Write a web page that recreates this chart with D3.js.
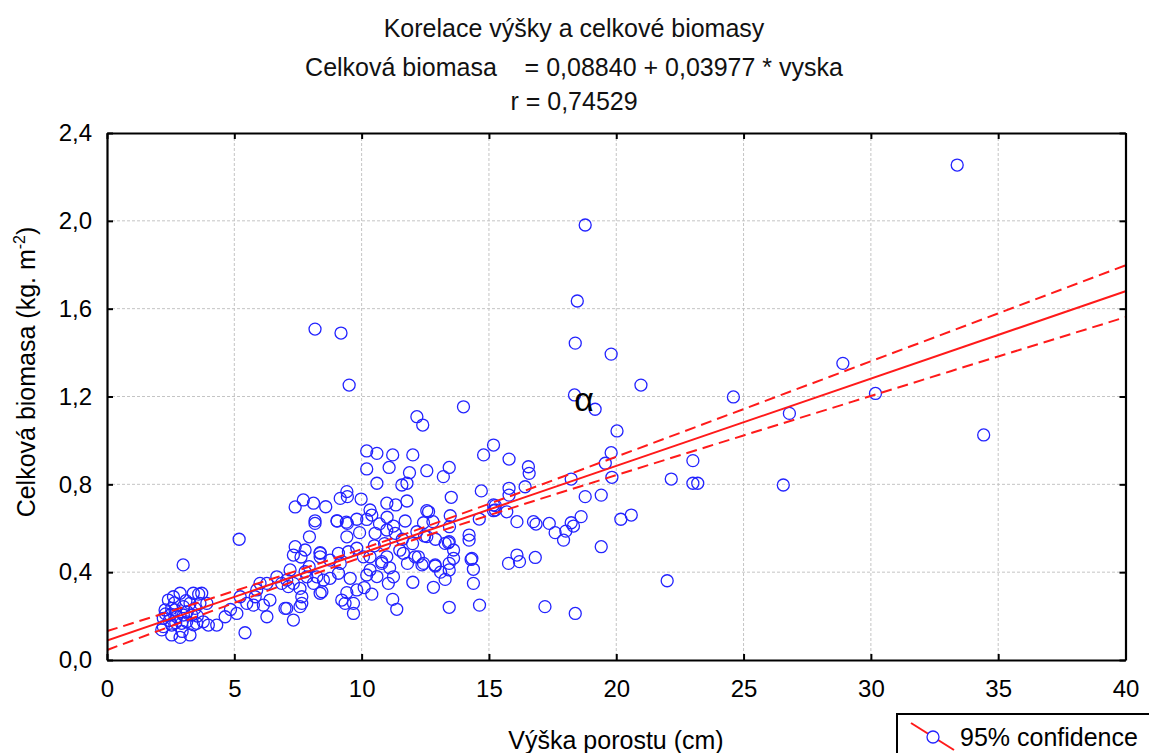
<!DOCTYPE html>
<html>
<head>
<meta charset="utf-8">
<script src="https://cdn.jsdelivr.net/npm/d3@7/dist/d3.min.js"></script>
<style>
  html, body { margin: 0; padding: 0; background: #fff; }
  svg { display: block; font-family: "Liberation Sans", Arial, sans-serif; }
</style>
</head>
<body>
<svg id="chart" width="1149" height="753"></svg>
<script>
// ---------- data ----------
const titleLines = [
  "Korelace výšky a celkové biomasy",
  "Celková biomasa\u00A0\u00A0\u00A0\u00A0= 0,08840 + 0,03977 * vyska",
  "r = 0,74529"
];
const xTicks = [0, 5, 10, 15, 20, 25, 30, 35, 40];
const yTicks = [0.0, 0.4, 0.8, 1.2, 1.6, 2.0, 2.4];
const yTickLabels = ["0,0", "0,4", "0,8", "1,2", "1,6", "2,0", "2,4"];
const xAxisTitle = "Výška porostu (cm)";
const legendLabel = "95% confidence";

const intercept = 0.08840;
const slope = 0.03977;
// half-width of the 95% confidence band read at each x tick
const bandX = [0, 5, 10, 15, 20, 25, 30, 35, 40];
const bandHalf = [0.043, 0.027, 0.019, 0.026, 0.042, 0.060, 0.079, 0.098, 0.118];

// scatter: plant height (cm) and total biomass (kg m-2)
const heightCm = [
  2.41,2.61,2.87,2.54,2.28,2.67,3.00,3.26,3.39,3.72,3.46,3.33,3.13,2.93,2.54,2.21,2.21,2.54,2.87,3.26,
  3.52,3.78,3.98,3.65,3.92,2.74,3.00,2.48,2.15,2.30,2.70,3.10,3.60,2.95,3.40,2.65,3.15,2.45,3.55,2.99,
  4.31,4.64,5.10,5.23,5.49,5.75,5.82,6.14,6.28,6.40,5.88,6.01,6.28,6.67,6.86,7.06,7.32,7.12,7.58,7.65,
  7.65,7.32,7.85,8.11,8.24,8.50,8.76,8.37,8.37,5.19,5.42,4.85,6.99,7.58,8.44,9.09,7.19,7.06,7.94,7.78,
  7.39,7.71,8.11,8.59,8.17,8.17,7.95,9.04,9.42,9.44,9.16,9.98,9.40,9.42,7.39,7.78,7.32,8.37,8.37,7.62,
  9.09,9.48,9.81,10.07,10.33,10.79,10.99,9.03,9.44,9.81,9.92,10.53,10.20,10.60,11.22,12.01,10.20,11.08,10.60,11.88,
  12.56,13.44,13.21,11.58,11.78,10.99,11.34,11.78,12.56,13.52,14.70,15.18,15.18,14.62,10.33,10.40,10.99,11.25,11.32,11.71,
  12.17,12.43,12.47,12.80,13.48,13.45,13.44,13.28,14.22,14.22,11.64,12.23,12.43,12.89,13.44,13.44,13.61,14.33,14.39,14.39,
  14.63,13.44,12.82,12.01,11.25,11.05,11.22,11.38,10.79,10.33,10.20,9.55,9.81,9.42,9.68,9.68,9.35,9.22,9.16,8.76,
  9.51,14.00,12.17,12.40,15.18,14.79,8.17,9.19,20.97,18.36,19.17,20.03,19.80,18.39,18.47,18.78,24.60,28.90,26.80,30.18,
  33.39,34.43,26.56,15.79,16.55,16.58,19.80,19.57,19.83,15.79,15.79,16.42,18.23,18.78,19.41,15.25,15.25,15.70,16.10,16.75,
  16.85,17.37,17.60,17.93,18.02,18.23,18.32,18.62,19.41,20.18,20.59,22.16,23.01,23.01,23.20,22.00,15.77,16.10,16.20,16.82,
  17.20,18.39,13.28,14.30,13.61,13.41,12.37,12.89,12.10,12.56,12.63,10.50,10.90,11.50,11.10,10.60,11.80,10.10,10.40,11.60,
  12.00,12.90,13.10,10.20,10.70,11.00
];
const biomass = [
  0.273,0.288,0.304,0.235,0.228,0.228,0.243,0.258,0.304,0.304,0.235,0.205,0.174,0.167,0.159,0.152,0.190,0.114,0.103,0.114,
  0.167,0.174,0.159,0.258,0.258,0.197,0.205,0.205,0.137,0.210,0.170,0.270,0.300,0.130,0.160,0.260,0.220,0.180,0.200,0.433,
  0.159,0.197,0.212,0.288,0.258,0.250,0.288,0.250,0.197,0.273,0.319,0.349,0.349,0.379,0.349,0.235,0.182,0.334,0.326,0.288,
  0.258,0.349,0.379,0.349,0.379,0.364,0.372,0.304,0.486,0.550,0.124,0.230,0.235,0.243,0.311,0.395,0.410,0.364,0.425,0.402,
  0.697,0.729,0.714,0.698,0.634,0.622,0.561,0.633,0.767,0.744,0.736,0.733,0.628,0.561,0.516,0.501,0.478,0.489,0.470,0.469,
  0.486,0.493,0.509,0.470,0.470,0.448,0.470,0.634,0.622,0.641,0.580,0.577,0.952,0.941,0.934,0.934,0.870,0.877,0.805,0.853,
  0.862,0.877,0.835,0.797,0.805,0.714,0.706,0.724,0.680,0.741,0.770,0.706,0.680,0.642,0.683,0.660,0.592,0.610,0.577,0.633,
  0.584,0.625,0.565,0.630,0.657,0.607,0.539,0.531,0.569,0.546,0.486,0.470,0.440,0.428,0.410,0.440,0.463,0.463,0.413,0.349,
  0.250,0.240,0.331,0.354,0.379,0.349,0.276,0.231,0.440,0.410,0.387,0.372,0.319,0.307,0.258,0.212,0.258,0.273,0.440,0.455,
  1.252,1.153,1.108,1.070,0.979,0.934,1.507,1.489,1.252,1.207,1.142,1.043,1.393,1.443,1.635,1.981,1.198,1.351,1.123,1.214,
  2.254,1.025,0.797,0.915,0.880,0.850,0.944,0.896,0.832,0.782,0.751,0.789,0.824,0.744,0.751,0.703,0.683,0.675,0.630,0.630,
  0.619,0.622,0.580,0.546,0.587,0.625,0.610,0.653,0.516,0.641,0.660,0.824,0.908,0.805,0.805,0.361,0.440,0.478,0.448,0.467,
  0.243,0.212,0.367,0.458,0.501,0.534,0.433,0.433,0.470,0.562,0.675,0.520,0.530,0.500,0.420,0.380,0.440,0.330,0.300,0.550,
  0.530,0.550,0.400,0.640,0.620,0.650
];

// ---------- layout ----------
const plot = { left: 107, right: 1125.5, top: 133, bottom: 660 };
const svg = d3.select("#chart");

const x = d3.scaleLinear().domain([0, 40]).range([plot.left, plot.right]);
const y = d3.scaleLinear().domain([0, 2.4]).range([plot.bottom, plot.top]);

const blue = "#2323ff", red = "#ff1a1a";

// title
svg.append("g").selectAll("text").data(titleLines).join("text")
  .attr("x", 574).attr("y", (d, i) => [37, 76, 110][i])
  .attr("text-anchor", "middle").attr("font-size", 25).attr("fill", "#111")
  .text(d => d);

// grid
const grid = svg.append("g").attr("stroke", "#c4c4c4").attr("stroke-width", 1).attr("stroke-dasharray", "3,2");
grid.selectAll("line.vx").data(xTicks.slice(1, -1)).join("line")
  .attr("x1", d => x(d)).attr("x2", d => x(d)).attr("y1", plot.top).attr("y2", plot.bottom);
grid.selectAll("line.hy").data(yTicks.slice(1, -1)).join("line")
  .attr("y1", d => y(d)).attr("y2", d => y(d)).attr("x1", plot.left).attr("x2", plot.right);

// clip
svg.append("clipPath").attr("id", "clip").append("rect")
  .attr("x", plot.left).attr("y", plot.top).attr("width", plot.right - plot.left).attr("height", plot.bottom - plot.top);

// points
svg.append("g").attr("clip-path", "url(#clip)").selectAll("circle").data(heightCm).join("circle")
  .attr("cx", d => x(d)).attr("cy", (d, i) => y(biomass[i])).attr("r", 6)
  .attr("fill", "none").attr("stroke", blue).attr("stroke-width", 1.3);

// regression line + confidence band
const lineG = svg.append("g").attr("clip-path", "url(#clip)").attr("fill", "none").attr("stroke", red).attr("stroke-width", 2);
const fit = v => intercept + slope * v;
lineG.append("line").attr("x1", x(0)).attr("y1", y(fit(0))).attr("x2", x(40)).attr("y2", y(fit(40)));
const band = d3.line().curve(d3.curveMonotoneX).x(d => x(d[0])).y(d => y(d[1]));
lineG.append("path").attr("stroke-dasharray", "11,6")
  .attr("d", band(bandX.map((v, i) => [v, fit(v) + bandHalf[i]])));
lineG.append("path").attr("stroke-dasharray", "11,6")
  .attr("d", band(bandX.map((v, i) => [v, fit(v) - bandHalf[i]])));

// alpha annotation
svg.append("text").attr("x", 584).attr("y", 411).attr("text-anchor", "middle")
  .attr("font-size", 34).attr("fill", "#000").text("α");

// axes (ticks inward on all four sides)
const axG = svg.append("g");
const axB = axG.append("g").attr("transform", `translate(0,${plot.bottom})`)
  .call(d3.axisBottom(x).tickValues(xTicks).tickSizeInner(-6).tickSizeOuter(0).tickPadding(20));
const axT = axG.append("g").attr("transform", `translate(0,${plot.top})`)
  .call(d3.axisTop(x).tickValues(xTicks).tickSizeInner(-6).tickSizeOuter(0).tickFormat(""));
const axL = axG.append("g").attr("transform", `translate(${plot.left},0)`)
  .call(d3.axisLeft(y).tickValues(yTicks).tickSizeInner(-6).tickSizeOuter(0).tickPadding(15)
    .tickFormat((d, i) => yTickLabels[i]));
const axR = axG.append("g").attr("transform", `translate(${plot.right},0)`)
  .call(d3.axisRight(y).tickValues(yTicks).tickSizeInner(-6).tickSizeOuter(0).tickFormat(""));
[axB, axT, axL, axR].forEach(g => {
  g.select(".domain").attr("stroke", "#000").attr("stroke-width", 2.2);
  g.selectAll(".tick line").attr("stroke", "#000").attr("stroke-width", 2);
  g.selectAll(".tick text").attr("font-size", 24).attr("fill", "#000")
    .attr("font-family", "Liberation Sans, Arial, sans-serif");
});
axB.selectAll(".tick text").attr("dy", "0.71em");

// axis titles
svg.append("text").attr("x", 616).attr("y", 749).attr("text-anchor", "middle")
  .attr("font-size", 25).attr("fill", "#000").text(xAxisTitle);
const yt = svg.append("text").attr("transform", "translate(35,372) rotate(-90)")
  .attr("text-anchor", "middle").attr("font-size", 25).attr("fill", "#000");
yt.append("tspan").text("Celková biomasa (kg. m");
yt.append("tspan").attr("dy", -10).attr("font-size", 16).text("-2");
yt.append("tspan").attr("dy", 10).text(")");

// legend (partly outside the picture, as in the original)
const lg = svg.append("g");
lg.append("rect").attr("x", 897).attr("y", 714).attr("width", 300).attr("height", 80)
  .attr("fill", "#fff").attr("stroke", "#000").attr("stroke-width", 2);
lg.append("line").attr("x1", 911).attr("y1", 723).attr("x2", 954).attr("y2", 750)
  .attr("stroke", red).attr("stroke-width", 2);
lg.append("circle").attr("cx", 933).attr("cy", 737).attr("r", 6)
  .attr("fill", "#fff").attr("stroke", blue).attr("stroke-width", 1.3);
lg.append("text").attr("x", 960).attr("y", 746).attr("font-size", 25).attr("fill", "#000").text(legendLabel);
</script>
</body>
</html>
